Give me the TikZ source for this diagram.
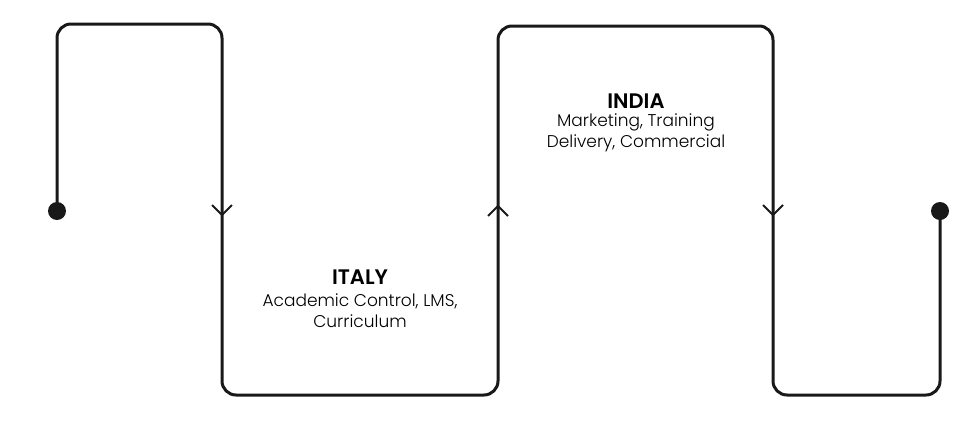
\documentclass[tikz,border=0pt]{standalone}
\usepackage{fontspec}
\setmainfont{Poppins}
\newfontfamily\lightfont{Poppins Light}
\newfontfamily\semifont{Poppins SemiBold}
\begin{document}
\begin{tikzpicture}[x=1pt,y=-1pt,
  wire/.style={line width=3pt,rounded corners=14pt,color=black!90},
  chev/.style={line width=2pt,color=black!90},
  dotend/.style={circle,fill=black!90,inner sep=0pt,minimum size=18pt},
  head/.style={font=\semifont\fontsize{21}{24}\selectfont,align=center},
  body/.style={font=\lightfont\fontsize{17}{21}\selectfont,align=center}]
\useasboundingbox (0,0) rectangle (980,426);
\coordinate (s) at (57,211);
\coordinate (c1) at (57,24);
\coordinate (c2) at (222,24);
\coordinate (c3) at (222,395);
\coordinate (c4) at (498,395);
\coordinate (c5) at (498,26);
\coordinate (c6) at (773,26);
\coordinate (c7) at (773,395);
\coordinate (c8) at (940,395);
\coordinate (e) at (940,211);
\draw[wire] (s) -- (c1) -- (c2) -- (c3) -- (c4) -- (c5) -- (c6) -- (c7) -- (c8) -- (e);
\node[dotend] (d1) at (s) {};
\node[dotend] (d2) at (e) {};
% chevrons
\coordinate (a1) at (222,215);
\draw[chev] (212,205) -- (a1) -- (232,205);
\coordinate (a2) at (498,206);
\draw[chev] (488,216) -- (a2) -- (508,216);
\coordinate (a3) at (773,215);
\draw[chev] (763,205) -- (a3) -- (783,205);
\node[head] (italy) at (360,277) {ITALY};
\node[body] (italyb) at (360,311) {Academic Control, LMS,\\Curriculum};
\node[head] (india) at (636,101) {INDIA};
\node[body] (indiab) at (636,133) {Marketing, Training\\Delivery, Commercial};
\end{tikzpicture}
\end{document}
